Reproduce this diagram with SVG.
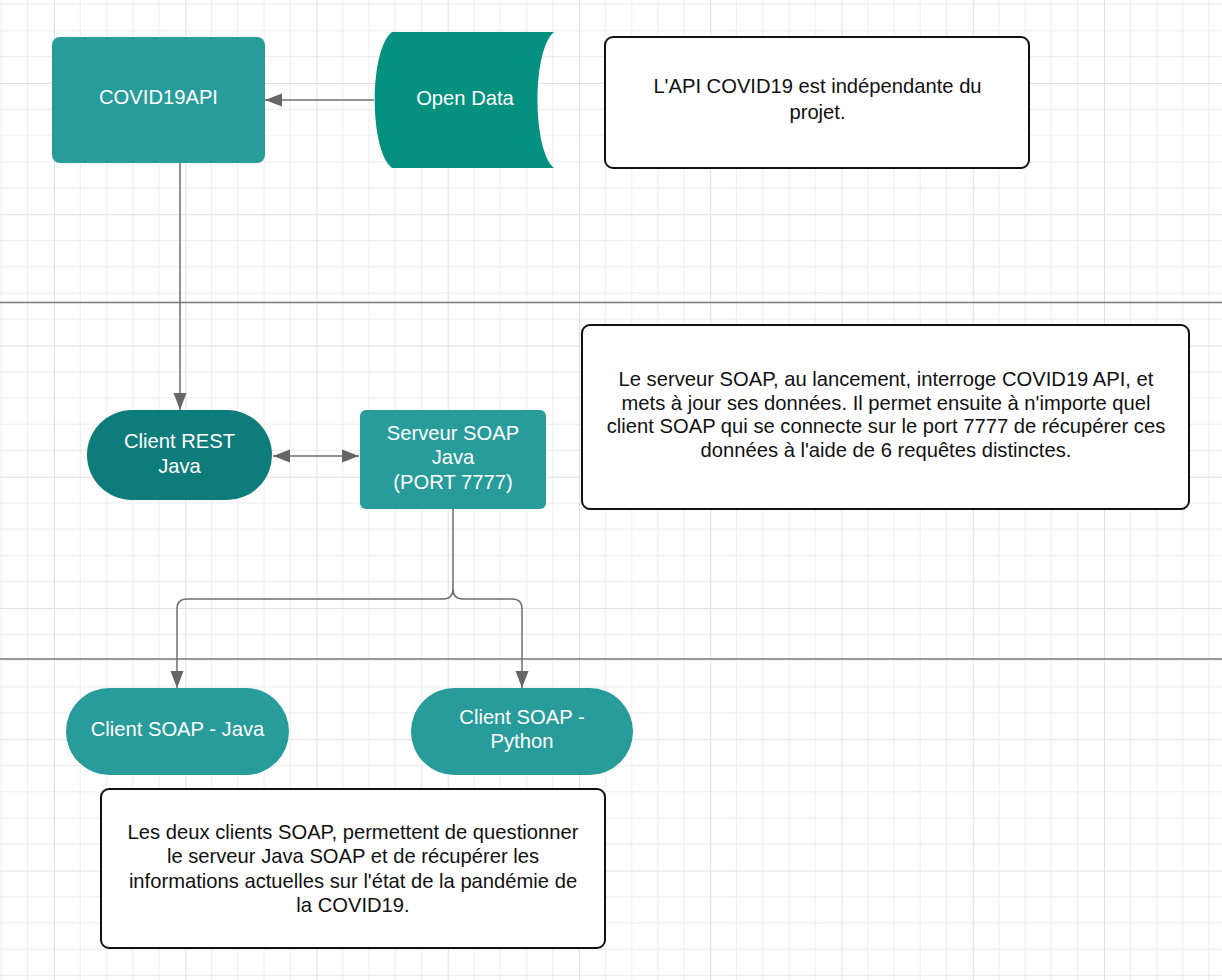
<svg xmlns="http://www.w3.org/2000/svg" width="1222" height="980" viewBox="0 0 1222 980">
  <style>
    .lbl { font-family: "Liberation Sans", Arial, sans-serif; font-size: 20.2px; fill: #ffffff; text-anchor: middle; }
    .note { font-family: "Liberation Sans", Arial, sans-serif; font-size: 20.2px; fill: #111111; text-anchor: middle; }
    .notebox { fill: #ffffff; stroke: #111111; stroke-width: 2; }
    .teal { fill: #289c9b; }
    .dark { fill: #0e7c7b; }
    .green { fill: #04917f; }
    .conn { fill: none; stroke: #6e6e6e; stroke-width: 1.5; }
    .sep { stroke: #7a7a7a; stroke-width: 1.5; }
  </style>
  <defs>
    <pattern id="grid" x="54" y="83" width="131.25" height="131.25" patternUnits="userSpaceOnUse">
      <g stroke="#ececec" stroke-width="1">
        <line x1="26.25" y1="0" x2="26.25" y2="131.25"/>
        <line x1="52.5" y1="0" x2="52.5" y2="131.25"/>
        <line x1="78.75" y1="0" x2="78.75" y2="131.25"/>
        <line x1="105" y1="0" x2="105" y2="131.25"/>
        <line x1="0" y1="26.25" x2="131.25" y2="26.25"/>
        <line x1="0" y1="52.5" x2="131.25" y2="52.5"/>
        <line x1="0" y1="78.75" x2="131.25" y2="78.75"/>
        <line x1="0" y1="105" x2="131.25" y2="105"/>
      </g>
      <g stroke="#e0e0e0" stroke-width="1">
        <line x1="0.5" y1="0" x2="0.5" y2="131.25"/>
        <line x1="0" y1="0.5" x2="131.25" y2="0.5"/>
      </g>
    </pattern>
    <marker id="arrow" markerUnits="userSpaceOnUse" markerWidth="18" markerHeight="14" refX="17" refY="7" orient="auto-start-reverse">
      <path d="M0,0.5 L17,7 L0,13.5 Z" fill="#666666"/>
    </marker>
  </defs>

  <rect x="0" y="0" width="1222" height="980" fill="#ffffff"/>
  <rect x="0" y="0" width="1222" height="980" fill="url(#grid)"/>

  <g id="separators">
    <line class="sep" x1="0" y1="302.5" x2="1222" y2="302.5"/>
    <line class="sep" x1="0" y1="659" x2="1222" y2="659"/>
  </g>

  <g id="connectors">
    <line class="conn" x1="374" y1="100" x2="265" y2="100" marker-end="url(#arrow)"/>
    <line class="conn" x1="180" y1="163" x2="180" y2="410" marker-end="url(#arrow)"/>
    <line class="conn" x1="273" y1="456" x2="359" y2="456" marker-start="url(#arrow)" marker-end="url(#arrow)"/>
    <path class="conn" d="M453,509 L453,589 Q453,599 443,599 L187,599 Q177,599 177,609 L177,688" marker-end="url(#arrow)"/>
    <path class="conn" d="M453,589 Q453,599 463,599 L512,599 Q522,599 522,609 L522,688" marker-end="url(#arrow)"/>
  </g>

  <g id="covid19api">
    <rect class="teal" x="52" y="37" width="213" height="126" rx="8"/>
    <text class="lbl" x="158.5" y="104">COVID19API</text>
  </g>

  <g id="opendata">
    <path class="green" d="M392,32 L554,32 C532,50 532,150 554,168 L392,168 C369,150 369,50 392,32 Z"/>
    <text class="lbl" x="465" y="105">Open Data</text>
  </g>

  <g id="note1">
    <rect class="notebox" x="605" y="37" width="424" height="131" rx="8"/>
    <text class="note" x="817.5" y="93">L'API COVID19 est indépendante du</text>
    <text class="note" x="817.5" y="119">projet.</text>
  </g>

  <g id="clientrest">
    <rect class="dark" x="87" y="410" width="185" height="90" rx="45"/>
    <text class="lbl" x="179.5" y="448">Client REST</text>
    <text class="lbl" x="179.5" y="472.5">Java</text>
  </g>

  <g id="serveursoap">
    <rect class="teal" x="360" y="410" width="186" height="99" rx="6"/>
    <text class="lbl" x="453" y="440">Serveur SOAP</text>
    <text class="lbl" x="453" y="464">Java</text>
    <text class="lbl" x="453" y="489">(PORT 7777)</text>
  </g>

  <g id="note2">
    <rect class="notebox" x="582" y="325" width="607" height="184" rx="8"/>
    <text class="note" x="886" y="386">Le serveur SOAP, au lancement, interroge COVID19 API, et</text>
    <text class="note" x="886" y="409.5">mets à jour ses données. Il permet ensuite à n'importe quel</text>
    <text class="note" x="886" y="433">client SOAP qui se connecte sur le port 7777 de récupérer ces</text>
    <text class="note" x="886" y="456.5">données à l'aide de 6 requêtes distinctes.</text>
  </g>

  <g id="clientsoapjava">
    <rect class="teal" x="66" y="688" width="223" height="87" rx="43.5"/>
    <text class="lbl" x="177.5" y="736">Client SOAP - Java</text>
  </g>

  <g id="clientsoappython">
    <rect class="teal" x="411" y="688" width="222" height="87" rx="43.5"/>
    <text class="lbl" x="522" y="724">Client SOAP -</text>
    <text class="lbl" x="522" y="748">Python</text>
  </g>

  <g id="note3">
    <rect class="notebox" x="101" y="789" width="504" height="159" rx="8"/>
    <text class="note" x="353" y="838.5">Les deux clients SOAP, permettent de questionner</text>
    <text class="note" x="353" y="863">le serveur Java SOAP et de récupérer les</text>
    <text class="note" x="353" y="887.5">informations actuelles sur l'état de la pandémie de</text>
    <text class="note" x="353" y="912">la COVID19.</text>
  </g>
</svg>
